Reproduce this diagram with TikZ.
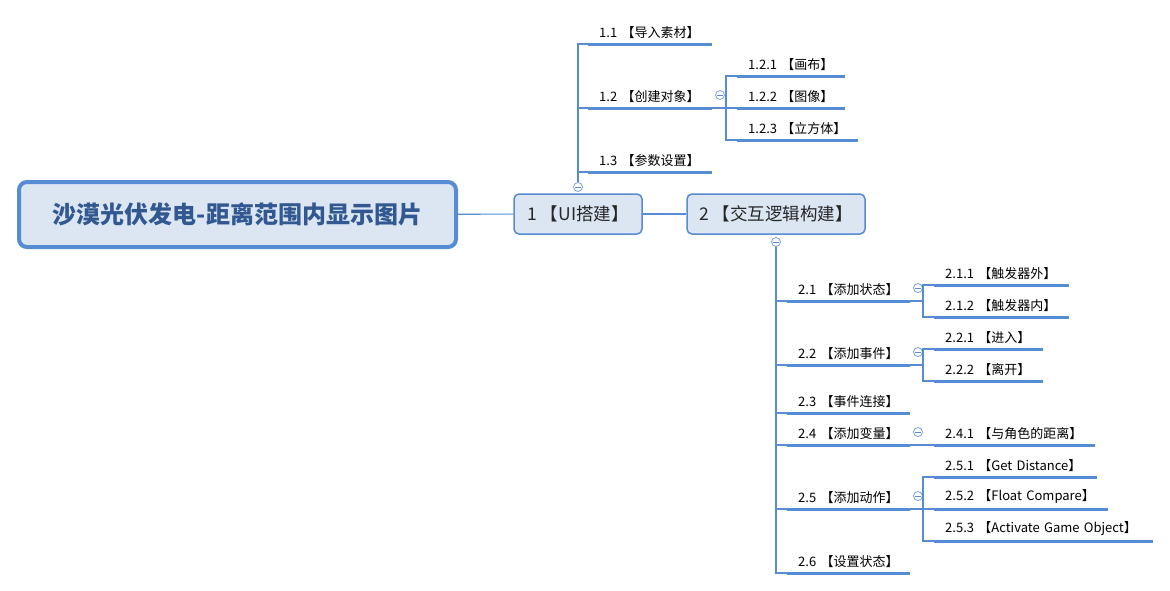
\documentclass[tikz,border=0pt]{standalone}
\usepackage{fontspec}
\newfontfamily\cjk{Noto Sans CJK SC}
\definecolor{mapblue}{RGB}{86,140,212}
\definecolor{mapfill}{RGB}{220,230,242}
\definecolor{roottext}{RGB}{50,88,146}
\usetikzlibrary{calc}

\begin{document}
\begin{tikzpicture}[x=1pt, y=-1pt,
  root/.style={rectangle, rounded corners=8pt, draw=mapblue, line width=4pt, fill=mapfill, minimum width=437pt, minimum height=65pt, font=\cjk\bfseries\fontsize{24}{24}\selectfont, text=roottext},
  main/.style={rectangle, rounded corners=5pt, draw=mapblue, line width=1.5pt, fill=mapfill, minimum height=40pt, font=\cjk\fontsize{17.5}{17.5}\selectfont, text=black!85},
  topic/.style={anchor=south west, inner xsep=11pt, inner ysep=5pt, text width=#1, font=\cjk\fontsize{13}{13}\selectfont},
  fold/.style={circle, draw=mapblue!80, fill=white, minimum size=9pt, inner sep=0pt, line width=0.8pt, path picture={\draw [mapblue, line width=0.8pt] ([xshift=-2.8pt]path picture bounding box.center) -- ([xshift=2.8pt]path picture bounding box.center);}},
  link/.style={draw=mapblue, line width=1.2pt},
  under/.style={draw=mapblue, line width=3pt}]
\useasboundingbox (0,0) rectangle (1170,590);
\node (root) at (237.5,214.5) [root] {沙漠光伏发电-距离范围内显示图片};
\node (ui) at (578,214) [main, minimum width=128pt] {1 【UI搭建】};
\node (logic) at (776,214) [main, minimum width=178pt] {2 【交互逻辑构建】};
\node (t11) at (588,44) [topic=102pt] {1.1 【导入素材】};
\node (t12) at (588,108) [topic=102pt] {1.2 【创建对象】};
\node (t13) at (588,172) [topic=102pt] {1.3 【参数设置】};
\node (t121) at (737,76) [topic=86pt] {1.2.1 【画布】};
\node (t122) at (737,108) [topic=86pt] {1.2.2 【图像】};
\node (t123) at (737,140) [topic=99pt] {1.2.3 【立方体】};
\node (t21) at (787,301) [topic=101pt] {2.1 【添加状态】};
\node (t22) at (787,365) [topic=101pt] {2.2 【添加事件】};
\node (t23) at (787,413) [topic=101pt] {2.3 【事件连接】};
\node (t24) at (787,445) [topic=101pt] {2.4 【添加变量】};
\node (t25) at (787,509) [topic=101pt] {2.5 【添加动作】};
\node (t26) at (787,573) [topic=101pt] {2.6 【设置状态】};
\node (t211) at (934,285) [topic=113pt] {2.1.1 【触发器外】};
\node (t212) at (934,317) [topic=113pt] {2.1.2 【触发器内】};
\node (t221) at (934,349) [topic=87pt] {2.2.1 【进入】};
\node (t222) at (934,381) [topic=87pt] {2.2.2 【离开】};
\node (t241) at (934,445) [topic=139pt] {2.4.1 【与角色的距离】};
\node (t251) at (934,477) [topic=141pt] {2.5.1 【Get Distance】};
\node (t252) at (934,509) [topic=152pt] {2.5.2 【Float Compare】};
\node (t253) at (934,541) [topic=197pt] {2.5.3 【Activate Game Object】};
\node (f1) at (578,187) [fold] {};
\node (f2) at (776,242) [fold] {};
\node (f12) at (720,95) [fold] {};
\node (f21) at (918,288) [fold] {};
\node (f22) at (918,352) [fold] {};
\node (f24) at (918,432) [fold] {};
\node (f25) at (918,496) [fold] {};
\coordinate (b12) at (726,108);
\coordinate (b21) at (923,301);
\coordinate (b22) at (923,365);
\coordinate (b25) at (923,509);
\draw [link] (root) -- (ui);
\draw [link] (ui) -- (logic);
\foreach \t in {t11,t12,t13} \draw [link] (f1) |- (\t.south west);
\foreach \t in {t21,t22,t23,t24,t25,t26} \draw [link] (f2) |- (\t.south west);
\foreach \t in {t121,t122,t123} \draw [link] (t12.south east) -- (b12) |- (\t.south west);
\foreach \t in {t211,t212} \draw [link] (t21.south east) -- (b21) |- (\t.south west);
\foreach \t in {t221,t222} \draw [link] (t22.south east) -- (b22) |- (\t.south west);
\foreach \t in {t251,t252,t253} \draw [link] (t25.south east) -- (b25) |- (\t.south west);
\draw [link] (t24.south east) -- (t241.south west);
\foreach \t in {t11,t12,t13,t121,t122,t123,t21,t22,t23,t24,t25,t26,t211,t212,t221,t222,t241,t251,t252,t253} \draw [under] (\t.south west) -- (\t.south east);
\end{tikzpicture}
\end{document}
